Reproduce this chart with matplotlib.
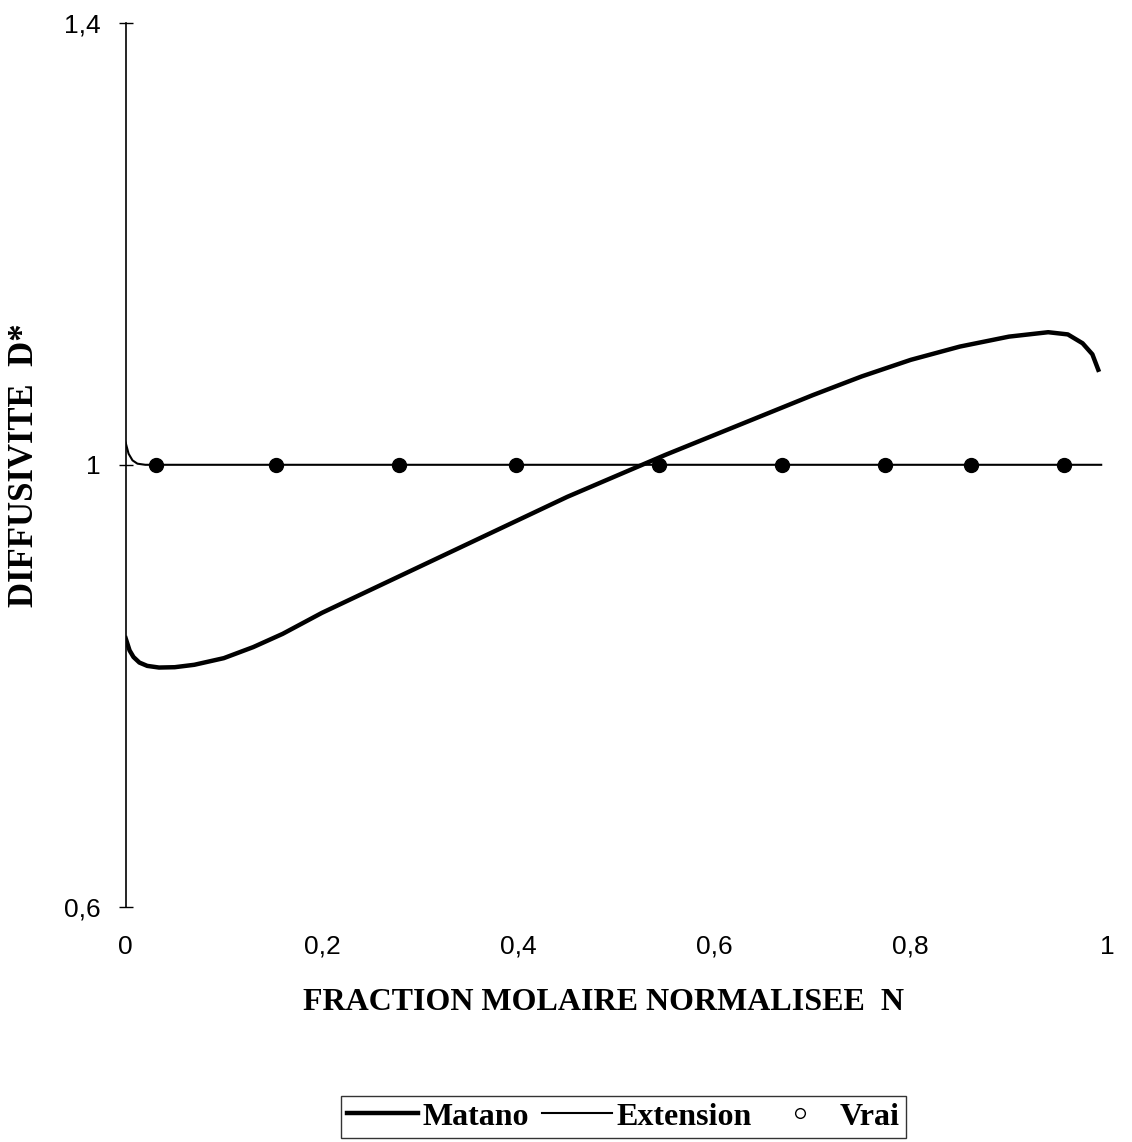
import numpy as np
import matplotlib.pyplot as plt

# Données
matano_n = [0.0, 0.004, 0.008, 0.014, 0.022, 0.034, 0.05, 0.07, 0.1, 0.13, 0.16,
            0.2, 0.25, 0.3, 0.35, 0.4, 0.45, 0.5, 0.55, 0.6, 0.65, 0.7, 0.75,
            0.8, 0.85, 0.9, 0.94, 0.96, 0.975, 0.985, 0.991]
matano_d = [0.843, 0.832, 0.826, 0.821, 0.818, 0.8165, 0.8168, 0.819, 0.825,
            0.835, 0.847, 0.866, 0.887, 0.908, 0.929, 0.950, 0.971, 0.990,
            1.009, 1.027, 1.045, 1.063, 1.080, 1.095, 1.107, 1.116, 1.120,
            1.118, 1.110, 1.100, 1.086]

ext_n = [0.0, 0.003, 0.007, 0.012, 0.02, 0.03, 0.994]
ext_d = [1.020, 1.010, 1.004, 1.001, 1.000, 1.000, 1.000]

vrai_n = [0.031, 0.153, 0.279, 0.398, 0.543, 0.669, 0.774, 0.861, 0.956]
vrai_d = [1.0, 1.0, 1.0, 1.0, 1.0, 1.0, 1.0, 1.0, 1.0]

yticks = [0.6, 1.0, 1.4]
ytick_labels = ['0,6', '1', '1,4']
xticks = [0, 0.2, 0.4, 0.6, 0.8, 1.0]
xtick_labels = ['0', '0,2', '0,4', '0,6', '0,8', '1']

fig = plt.figure(figsize=(11.32, 11.42), dpi=100)
ax = fig.add_axes([0.111, 0.206, 0.867, 0.774])

ax.plot(matano_n, matano_d, color='black', linewidth=3.2, label='Matano')
ax.plot(ext_n, ext_d, color='black', linewidth=1.5, label='Extension')
ax.plot(vrai_n, vrai_d, linestyle='none', marker='o', markersize=10,
        color='black', label='Vrai')

ax.set_xlim(0, 1)
ax.set_ylim(0.6, 1.4)
for s in ['top', 'right', 'bottom']:
    ax.spines[s].set_visible(False)
ax.spines['left'].set_linewidth(1.2)

ax.set_yticks(yticks)
ax.set_yticklabels(ytick_labels, family='Liberation Sans', fontsize=19)
ax.set_xticks(xticks)
ax.set_xticklabels(xtick_labels, family='Liberation Sans', fontsize=19)
ax.tick_params(axis='y', direction='inout', length=10, width=1, pad=13)
ax.tick_params(axis='x', length=0, pad=20)

fig.text(0.022, 0.593, 'DIFFUSIVITE  D*', rotation=90, ha='center', va='center',
         family='Liberation Serif', fontweight='bold', fontsize=25)
fig.text(0.533, 0.122, 'FRACTION MOLAIRE NORMALISEE  N', ha='center', va='center',
         family='Liberation Serif', fontweight='bold', fontsize=23)

handles = [plt.Line2D([], [], color='black', linewidth=3.2),
           plt.Line2D([], [], color='black', linewidth=1.5),
           plt.Line2D([], [], linestyle='none', marker='o', markersize=7,
                      markerfacecolor='white', markeredgecolor='black')]
leg = fig.legend(handles, ['Matano', 'Extension', 'Vrai'], ncol=3,
                 loc='center', bbox_to_anchor=(0.551, 0.022),
                 prop={'family': 'Liberation Serif', 'weight': 'bold', 'size': 23},
                 frameon=True, fancybox=False, handlelength=2.2,
                 handletextpad=0.15, columnspacing=0.4, borderpad=0.2)
leg.get_frame().set_edgecolor('black')
leg.get_frame().set_linewidth(1.0)

fig.savefig('out.png', dpi=100)
